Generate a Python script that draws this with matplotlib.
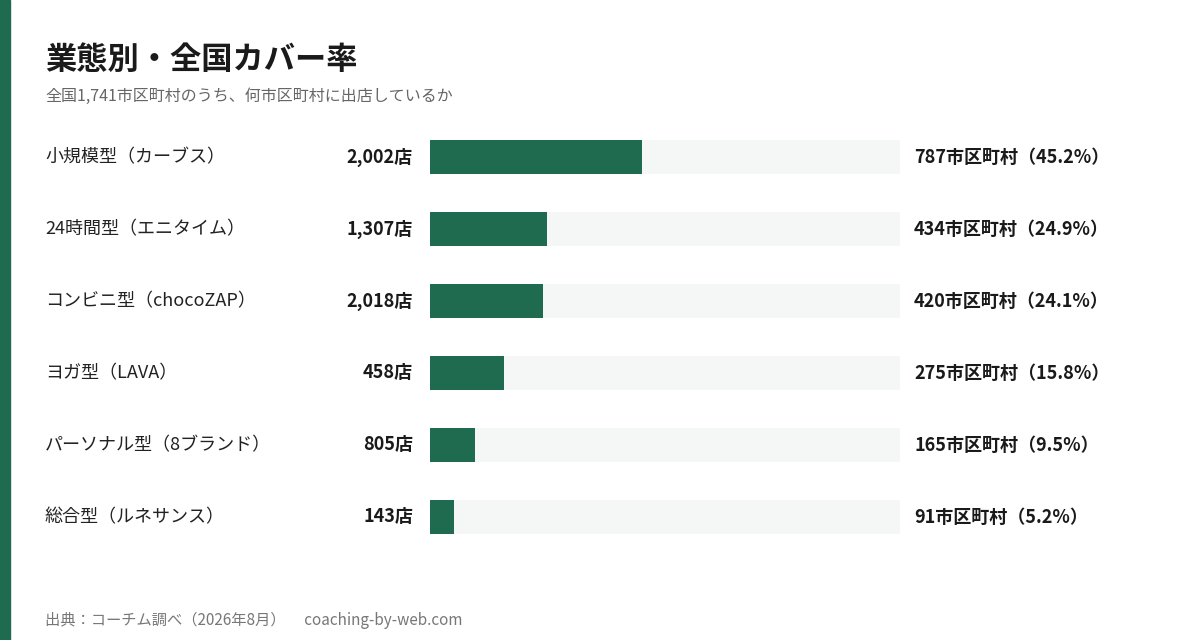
import matplotlib
matplotlib.use("Agg")
import matplotlib.pyplot as plt

plt.rcParams['font.family'] = ['Noto Sans CJK JP', 'DejaVu Sans']

categories = ["小規模型（カーブス）", "24時間型（エニタイム）", "コンビニ型（chocoZAP）",
              "ヨガ型（LAVA）", "パーソナル型（8ブランド）", "総合型（ルネサンス）"]
stores = ["2,002店", "1,307店", "2,018店", "458店", "805店", "143店"]
municipalities = [787, 434, 420, 275, 165, 91]
coverage = [45.2, 24.9, 24.1, 15.8, 9.5, 5.2]

green = "#1f6b50"
W, H = 1180, 640
fig = plt.figure(figsize=(W/100, H/100), dpi=100)
fig.patches.append(plt.Rectangle((0, 0), 10/W, 1, transform=fig.transFigure, color=green))

fig.text(45/W, 1-60/H, "業態別・全国カバー率", fontsize=22.5, fontweight='bold', color="#1a1a1a", va='center')
fig.text(45/W, 1-96/H, "全国1,741市区町村のうち、何市区町村に出店しているか", fontsize=11.5, color="#666666", va='center')
fig.text(45/W, 1-620/H, "出典：コーチム調べ（2026年8月）　 coaching-by-web.com", fontsize=11, color="#777777", va='center')

ax = fig.add_axes([430/W, 1-553/H, 470/W, 432/H])
ax.set_xlim(0, 100)
ax.set_ylim(len(categories)-0.5, -0.5)
ax.axis('off')
ys = list(range(len(categories)))
ax.barh(ys, [100]*len(ys), height=0.486, color="#f5f7f6")
ax.barh(ys, coverage, height=0.486, color=green)
for i, (c, s, m, p) in enumerate(zip(categories, stores, municipalities, coverage)):
    ax.text((45-430)/470, i, c, transform=ax.get_yaxis_transform(), fontsize=13, color="#222222", va='center', ha='left')
    ax.text((413-430)/470, i, s, transform=ax.get_yaxis_transform(), fontsize=13, fontweight='bold', color="#1a1a1a", va='center', ha='right')
    ax.text((914-430)/470, i, f"{m}市区町村（{p}%）", transform=ax.get_yaxis_transform(), fontsize=13, fontweight='bold', color="#1a1a1a", va='center', ha='left')

fig.savefig("out.png", dpi=100, facecolor="white")
